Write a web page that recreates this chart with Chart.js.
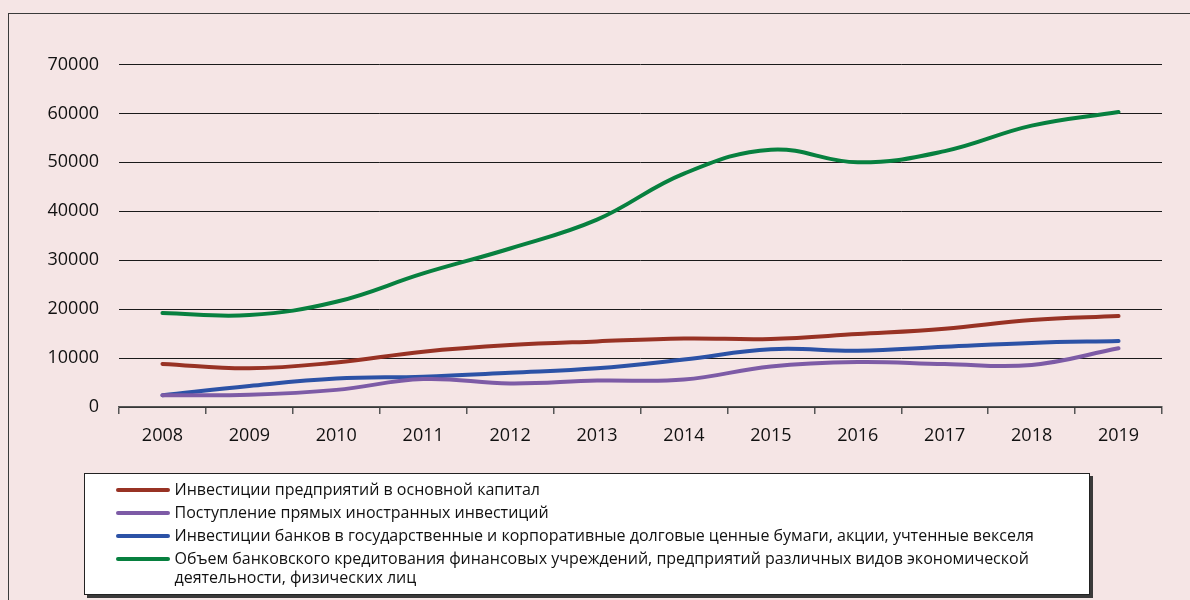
<!DOCTYPE html>
<html lang="ru">
<head>
<meta charset="utf-8">
<script src="https://cdn.jsdelivr.net/npm/chart.js@4.4.1/dist/chart.umd.min.js"></script>
<style>
  html, body { margin: 0; padding: 0; }
  body {
    width: 1190px; height: 600px; overflow: hidden; position: relative;
    background: #f5e5e5; font-family: "Open Sans", sans-serif;
  }
  #frame {
    position: absolute; left: 8px; top: 13px; width: 1300px; height: 700px;
    border: 1.5px solid #3a3a3a; box-sizing: border-box;
  }
  #wrap { position: absolute; left: 0; top: 0; width: 1190px; height: 600px; }
  #legend {
    position: absolute; left: 84px; top: 473px; width: 1006px; height: 122px;
    box-sizing: border-box; background: #fff; border: 1.5px solid #222;
    box-shadow: 3px 3px 0 #3a3a3a; padding-top: 6px;
  }
  .item { display: flex; align-items: flex-start; margin-bottom: 4px; }
  .swatch {
    flex: none; width: 54px; height: 4px; border-radius: 2px;
    margin: 7.5px 5px 0 30.5px;
  }
  .text { flex: 1; padding-right: 12px; font-size: 16px; line-height: 19px; color: #111; }
</style>
</head>
<body>
<div id="frame"></div>
<div id="wrap"><canvas id="chart" width="1190" height="600"></canvas></div>
<div id="legend"></div>
<script>
const years = ['2008', '2009', '2010', '2011', '2012', '2013', '2014', '2015', '2016', '2017', '2018', '2019'];

const enterpriseInvest = [8800, 7900, 9100, 11300, 12650, 13400, 14000, 13900, 14900, 16000, 17800, 18600];
const fdiInflow = [2400, 2500, 3500, 5700, 4800, 5400, 5600, 8300, 9200, 8800, 8600, 12000];
const bankSecurities = [2400, 4300, 5800, 6200, 7000, 7900, 9700, 11800, 11500, 12300, 13100, 13500];
const bankLending = [19200, 18800, 21500, 27300, 32400, 38300, 47700, 52600, 50000, 52300, 57500, 60300];

const seriesNames = [
    'Инвестиции предприятий в основной капитал',
    'Поступление прямых иностранных инвестиций',
    'Инвестиции банков в государственные и корпоративные долговые ценные бумаги, акции, учтенные векселя',
    'Объем банковского кредитования финансовых учреждений, предприятий различных видов экономической деятельности, физических лиц'
];
const seriesColors = ['#983224', '#7d5ba6', '#2c52a6', '#07803f'];

const yMax = 70000;
const yStep = 10000;

function makeDataset(i, data) {
    return {
        label: seriesNames[i],
        data: data,
        borderColor: seriesColors[i],
        backgroundColor: seriesColors[i],
        borderWidth: 4,
        borderCapStyle: 'round',
        borderJoinStyle: 'round',
        pointRadius: 0,
        tension: 0.4,
        fill: false
    };
}

const ctx = document.getElementById('chart').getContext('2d');

const chart = new Chart(ctx, {
    type: 'line',
    data: {
        labels: years,
        datasets: [
            makeDataset(0, enterpriseInvest),
            makeDataset(1, fdiInflow),
            makeDataset(2, bankSecurities),
            makeDataset(3, bankLending)
        ]
    },
    options: {
        responsive: false,
        animation: false,
        layout: {
            padding: { top: 64.5, right: 28, bottom: 0, left: 0 }
        },
        plugins: {
            legend: { display: false },
            tooltip: { enabled: false }
        },
        scales: {
            x: {
                offset: true,
                grid: {
                    offset: true,
                    drawOnChartArea: false,
                    drawTicks: true,
                    tickLength: 7,
                    color: '#555',
                    lineWidth: 1.5
                },
                border: { display: true, color: '#555', width: 1.5 },
                ticks: {
                    color: '#111',
                    padding: 11,
                    font: { family: 'Open Sans', size: 18 }
                },
                afterFit: (scale) => { scale.height = 193; }
            },
            y: {
                min: 0,
                max: yMax,
                ticks: {
                    stepSize: yStep,
                    color: '#111',
                    padding: 20,
                    font: { family: 'Open Sans', size: 18 },
                    callback: (v) => String(v)
                },
                grid: {
                    drawTicks: false,
                    color: '#1a1a1a',
                    lineWidth: 1
                },
                border: { display: false },
                afterFit: (scale) => { scale.width = 119; }
            }
        }
    }
});

// legend as html so the long label can wrap like the original
const legendEl = document.getElementById('legend');
chart.data.datasets.forEach(ds => {
    const item = document.createElement('div');
    item.className = 'item';
    const sw = document.createElement('span');
    sw.className = 'swatch';
    sw.style.background = ds.borderColor;
    const txt = document.createElement('span');
    txt.className = 'text';
    txt.textContent = ds.label;
    item.appendChild(sw);
    item.appendChild(txt);
    legendEl.appendChild(item);
});
</script>
</body>
</html>
